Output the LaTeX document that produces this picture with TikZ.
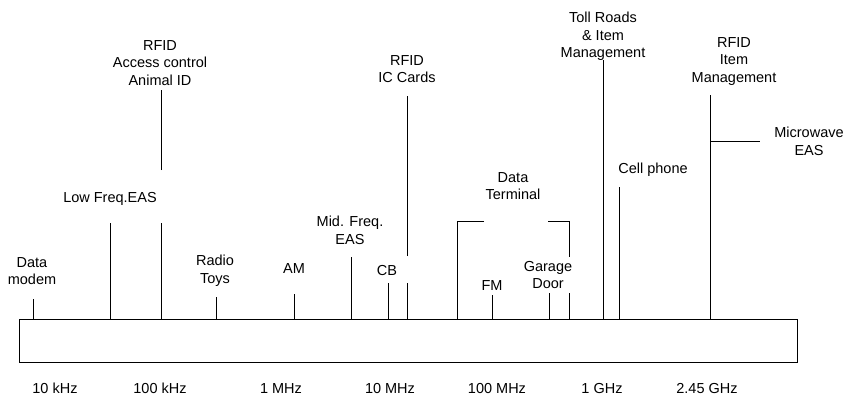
\documentclass[tikz,border=0pt]{standalone}
\usepackage{fontspec}
\setmainfont{Liberation Sans}
\begin{document}
\begin{tikzpicture}[
  x=1pt,y=-1pt,
  band/.style={draw,line width=1pt},
  tick/.style={line width=1pt},
  lbl/.style={anchor=north,inner sep=0pt,align=center,font=\fontsize{14.5}{17.5}\selectfont}
]
  \useasboundingbox (0,0) rectangle (848,397);

  % frequency band
  \draw[band] (19,319) rectangle (797,362);

  \node[lbl] (f10k)  at (55,383)  {10 kHz};
  \node[lbl] (f100k) at (160,383) {100 kHz};
  \node[lbl] (f1M)   at (281,383) {1 MHz};
  \node[lbl] (f10M)  at (390,383) {10 MHz};
  \node[lbl] (f100M) at (497,383) {100 MHz};
  \node[lbl] (f1G)   at (602,383) {1 GHz};
  \node[lbl] (f245G) at (707,383) {2.45 GHz};

  % applications
  \node[lbl] (modem)   at (32,257)  {Data\\modem};
  \node[lbl] (lfeas)   at (110,192) {Low Freq.EAS};
  \node[lbl] (rfidlf)  at (160,40)  {RFID\\Access control\\Animal ID};
  \node[lbl] (toys)    at (215,255) {Radio\\Toys};
  \node[lbl] (am)      at (294,263) {AM};
  \node[lbl] (mfeas)   at (350,216) {Mid. Freq.\\EAS};
  \node[lbl] (cb)      at (387,265) {CB};
  \node[lbl] (rfidhf)  at (407,55)  {RFID\\IC Cards};
  \node[lbl] (dataterm) at (513,172) {Data\\Terminal};
  \node[lbl] (fm)      at (492,280) {FM};
  \node[lbl] (garage)  at (548,261) {Garage\\Door};
  \node[lbl] (toll)    at (603,12)  {Toll Roads\\\& Item\\Management};
  \node[lbl] (cell)    at (653,163) {Cell phone};
  \node[lbl] (rfiduhf) at (734,37)  {RFID\\Item\\Management};
  \node[lbl] (mweas)   at (809,127) {Microwave\\EAS};

  % markers
  \draw[tick] (33,319) -- (33,299);
  \draw[tick] (110,319) -- (110,223);
  \draw[tick] (161,319) -- (161,223);
  \draw[tick] (161,170) -- (161,90);
  \draw[tick] (216,319) -- (216,297);
  \draw[tick] (294,319) -- (294,294);
  \draw[tick] (351,319) -- (351,257);
  \draw[tick] (388,319) -- (388,283);
  \draw[tick] (407,319) -- (407,283);
  \draw[tick] (407,256) -- (407,96);
  \draw[tick] (484,221) -- (457,221) -- (457,319);
  \draw[tick] (548,221) -- (569,221) -- (569,257);
  \draw[tick] (569,293) -- (569,319);
  \draw[tick] (492,319) -- (492,295);
  \draw[tick] (549,319) -- (549,293);
  \draw[tick] (603,319) -- (603,60);
  \draw[tick] (619,319) -- (619,187);
  \draw[tick] (710,319) -- (710,95);
  \draw[tick] (710,141) -- (760,141);
\end{tikzpicture}
\end{document}
